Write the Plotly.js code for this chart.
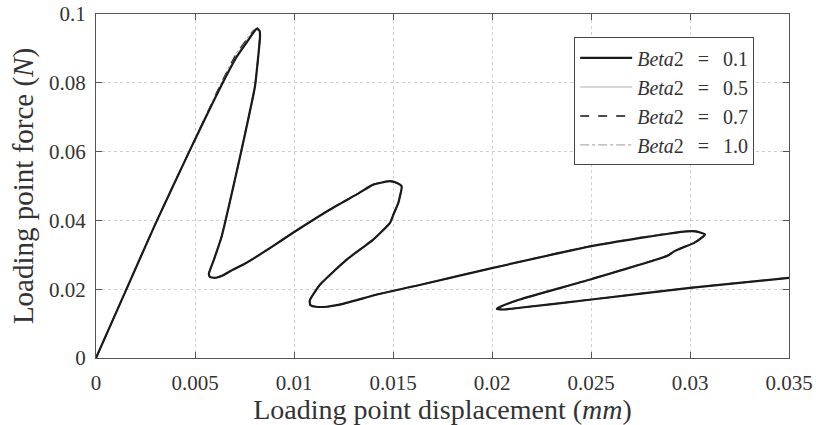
<!DOCTYPE html>
<html>
<head>
<meta charset="utf-8">
<script src="https://cdn.plot.ly/plotly-3.0.1.min.js"></script>
<style>html,body{margin:0;padding:0;background:#fff;}#chart{width:816px;height:425px;}</style>
</head>
<body>
<div id="chart"></div>
<script>
// Loading point displacement (mm) and force (N) for each Beta2 value
const x_beta01 = [0, 0.0015, 0.003, 0.00475, 0.0055, 0.0064, 0.0071, 0.0077, 0.0080, 0.00815, 0.00827, 0.00828, 0.0082, 0.00803, 0.0075, 0.00694, 0.00635, 0.00595, 0.0057, 0.00575, 0.0060, 0.0064, 0.0068, 0.0076, 0.0088, 0.00995, 0.0118, 0.0133, 0.0140, 0.01485, 0.0152, 0.01544, 0.01535, 0.01527, 0.01502, 0.01485, 0.0140, 0.0134, 0.01266, 0.01131, 0.0108, 0.01082, 0.0111, 0.01165, 0.0123, 0.0143, 0.0164, 0.02005, 0.02503, 0.0275, 0.0290, 0.0298, 0.0303, 0.03076, 0.03025, 0.0292, 0.0289, 0.0250, 0.0214, 0.0205, 0.02024, 0.0206, 0.0214, 0.02503, 0.0300, 0.0350];
const y_beta01 = [0, 0.0195, 0.039, 0.0605, 0.0695, 0.0800, 0.0875, 0.0925, 0.0950, 0.0958, 0.0950, 0.0930, 0.0880, 0.0790, 0.0644, 0.0499, 0.0354, 0.0285, 0.0245, 0.0236, 0.0233, 0.0240, 0.0253, 0.0277, 0.0320, 0.0364, 0.0431, 0.0480, 0.0504, 0.0514, 0.0509, 0.0499, 0.0470, 0.0451, 0.0417, 0.0393, 0.0344, 0.0318, 0.0286, 0.0213, 0.0168, 0.0154, 0.0149, 0.0149, 0.0155, 0.0186, 0.0213, 0.0262, 0.0325, 0.0349, 0.0362, 0.0368, 0.0368, 0.0359, 0.0336, 0.0310, 0.0298, 0.0229, 0.0170, 0.0151, 0.0143, 0.0141, 0.0146, 0.0170, 0.0204, 0.0233];

const x_beta05 = [0, 0.0015, 0.003, 0.00475, 0.0055, 0.0064, 0.0071, 0.00768, 0.00798, 0.00813, 0.00826, 0.00828, 0.0082, 0.00803, 0.0075, 0.00694, 0.00635, 0.00595, 0.0057, 0.00575, 0.0060, 0.0064, 0.0068, 0.0076, 0.0088, 0.00995, 0.0118, 0.0133, 0.0140, 0.01485, 0.0152, 0.01543, 0.01535, 0.01527, 0.01502, 0.01485, 0.0140, 0.0134, 0.01266, 0.01131, 0.0108, 0.01082, 0.0111, 0.01165, 0.0123, 0.0143, 0.0164, 0.02005, 0.02503, 0.0275, 0.0290, 0.0298, 0.0303, 0.03074, 0.03025, 0.0292, 0.0289, 0.0250, 0.0214, 0.0205, 0.02024, 0.0206, 0.0214, 0.02503, 0.0300, 0.0350];
const y_beta05 = [0, 0.0195, 0.039, 0.0605, 0.0697, 0.0803, 0.0878, 0.0927, 0.0951, 0.0957, 0.0949, 0.0930, 0.0880, 0.0790, 0.0644, 0.0499, 0.0354, 0.0285, 0.0245, 0.0236, 0.0233, 0.0240, 0.0253, 0.0277, 0.0320, 0.0364, 0.0431, 0.0480, 0.0504, 0.0513, 0.0509, 0.0499, 0.0470, 0.0451, 0.0417, 0.0393, 0.0344, 0.0318, 0.0286, 0.0213, 0.0168, 0.0154, 0.0149, 0.0149, 0.0155, 0.0186, 0.0213, 0.0262, 0.0325, 0.0350, 0.0363, 0.0368, 0.0368, 0.0359, 0.0336, 0.0310, 0.0298, 0.0229, 0.0170, 0.0151, 0.0143, 0.0141, 0.0146, 0.0170, 0.0204, 0.0233];

const x_beta07 = [0, 0.0015, 0.003, 0.00475, 0.0055, 0.00638, 0.00706, 0.00765, 0.00796, 0.00812, 0.00825, 0.00827, 0.0082, 0.00803, 0.0075, 0.00694, 0.00635, 0.00595, 0.0057, 0.00575, 0.0060, 0.0064, 0.0068, 0.0076, 0.0088, 0.00995, 0.0118, 0.0133, 0.0140, 0.01485, 0.0152, 0.01544, 0.01535, 0.01527, 0.01502, 0.01485, 0.0140, 0.0134, 0.01266, 0.01131, 0.0108, 0.01082, 0.0111, 0.01165, 0.0123, 0.0143, 0.0164, 0.02005, 0.02503, 0.0275, 0.0290, 0.0298, 0.0303, 0.03076, 0.03025, 0.0292, 0.0289, 0.0250, 0.0214, 0.0205, 0.02024, 0.0206, 0.0214, 0.02503, 0.0300, 0.0350];
const y_beta07 = [0, 0.0195, 0.039, 0.0605, 0.0698, 0.0805, 0.0880, 0.0928, 0.0952, 0.0956, 0.0948, 0.0929, 0.0880, 0.0790, 0.0644, 0.0499, 0.0354, 0.0285, 0.0245, 0.0236, 0.0233, 0.0240, 0.0253, 0.0277, 0.0320, 0.0364, 0.0431, 0.0480, 0.0504, 0.0514, 0.0509, 0.0499, 0.0470, 0.0451, 0.0417, 0.0393, 0.0344, 0.0318, 0.0286, 0.0213, 0.0168, 0.0154, 0.0149, 0.0149, 0.0155, 0.0186, 0.0213, 0.0262, 0.0326, 0.0350, 0.0363, 0.0368, 0.0368, 0.0359, 0.0336, 0.0312, 0.0299, 0.0229, 0.0170, 0.0151, 0.0143, 0.0141, 0.0146, 0.0170, 0.0204, 0.0233];

const x_beta10 = [0, 0.0015, 0.003, 0.00475, 0.0055, 0.00637, 0.00704, 0.00762, 0.00794, 0.0081, 0.00824, 0.00826, 0.0082, 0.00803, 0.0075, 0.00694, 0.00635, 0.00595, 0.0057, 0.00575, 0.0060, 0.0064, 0.0068, 0.0076, 0.0088, 0.00995, 0.0118, 0.0133, 0.0140, 0.01485, 0.0152, 0.01543, 0.01535, 0.01527, 0.01502, 0.01485, 0.0140, 0.0134, 0.01266, 0.01131, 0.0108, 0.01082, 0.0111, 0.01165, 0.0123, 0.0143, 0.0164, 0.02005, 0.02503, 0.0275, 0.0290, 0.0298, 0.0303, 0.03075, 0.03025, 0.0292, 0.0289, 0.0250, 0.0214, 0.0205, 0.02024, 0.0206, 0.0214, 0.02503, 0.0300, 0.0350];
const y_beta10 = [0, 0.0195, 0.039, 0.0605, 0.0699, 0.0806, 0.0882, 0.0929, 0.0952, 0.0955, 0.0947, 0.0928, 0.0880, 0.0790, 0.0644, 0.0499, 0.0354, 0.0285, 0.0245, 0.0236, 0.0233, 0.0240, 0.0253, 0.0277, 0.0320, 0.0364, 0.0431, 0.0480, 0.0504, 0.0513, 0.0509, 0.0499, 0.0470, 0.0451, 0.0417, 0.0393, 0.0344, 0.0318, 0.0286, 0.0213, 0.0168, 0.0154, 0.0149, 0.0149, 0.0155, 0.0186, 0.0213, 0.0262, 0.0326, 0.0350, 0.0363, 0.0368, 0.0368, 0.0359, 0.0336, 0.0312, 0.0299, 0.0229, 0.0170, 0.0151, 0.0143, 0.0141, 0.0146, 0.0170, 0.0204, 0.0233];

const SP = '\u2002\u2009';
const seriesNames = [
  '<i>Beta</i>2' + SP + '=' + SP + '0.1',
  '<i>Beta</i>2' + SP + '=' + SP + '0.5',
  '<i>Beta</i>2' + SP + '=' + SP + '0.7',
  '<i>Beta</i>2' + SP + '=' + SP + '1.0'
];

const xTickVals = [0, 0.005, 0.01, 0.015, 0.02, 0.025, 0.03, 0.035];
const xTickText = ['0', '0.005', '0.01', '0.015', '0.02', '0.025', '0.03', '0.035'];
const yTickVals = [0, 0.02, 0.04, 0.06, 0.08, 0.1];
const yTickText = ['0', '0.02', '0.04', '0.06', '0.08', '0.1'];

const FONT = 'Liberation Serif, Times New Roman, serif';
const TXT = '#333333';

// drawn back-to-front so the solid black curve sits on top; legend order by legendrank
const traces = [
  {x: x_beta10, y: y_beta10, name: seriesNames[3], legendrank: 4, mode: 'lines',
   line: {color: '#9a9a9a', width: 1, dash: 'dashdot', shape: 'spline', smoothing: 0.5}},
  {x: x_beta07, y: y_beta07, name: seriesNames[2], legendrank: 3, mode: 'lines',
   line: {color: '#111111', width: 1.5, dash: 'dash', shape: 'spline', smoothing: 0.5}},
  {x: x_beta05, y: y_beta05, name: seriesNames[1], legendrank: 2, mode: 'lines',
   line: {color: '#c8c8c8', width: 1.5, shape: 'spline', smoothing: 0.5}},
  {x: x_beta01, y: y_beta01, name: seriesNames[0], legendrank: 1, mode: 'lines',
   line: {color: '#1a1a1a', width: 2.2, shape: 'spline', smoothing: 0.5}}
];

const axisCommon = {
  showline: true, linecolor: '#555', linewidth: 1, mirror: 'allticks',
  ticks: 'inside', ticklen: 6, tickcolor: '#555', tickwidth: 1,
  showgrid: true, gridcolor: '#cfcfcf', griddash: 'dot', gridwidth: 1,
  zeroline: false, tickfont: {family: FONT, size: 21, color: TXT}
};

const layout = {
  width: 816, height: 425,
  margin: {l: 96, r: 27, t: 14, b: 67},
  paper_bgcolor: '#fff', plot_bgcolor: '#fff',
  showlegend: true,
  xaxis: Object.assign({}, axisCommon, {
    range: [0, 0.035], tickmode: 'array', tickvals: xTickVals, ticktext: xTickText,
    ticklabelstandoff: 6,
    title: {text: 'Loading point displacement (<i>mm</i>)', font: {family: FONT, size: 28, color: TXT}, standoff: 0}
  }),
  yaxis: Object.assign({}, axisCommon, {
    range: [0, 0.1], tickmode: 'array', tickvals: yTickVals, ticktext: yTickText,
    ticklabelstandoff: 5,
    title: {text: 'Loading point force (<i>N</i>)', font: {family: FONT, size: 29, color: TXT}, standoff: 6}
  }),
  legend: {
    x: 0.69, y: 0.932, xanchor: 'left', yanchor: 'top',
    bgcolor: '#fff', bordercolor: '#444', borderwidth: 1,
    font: {family: FONT, size: 20, color: TXT},
    tracegroupgap: 0, itemwidth: 52
  }
};

Plotly.newPlot('chart', traces, layout, {displayModeBar: false, staticPlot: true});
</script>
</body>
</html>
